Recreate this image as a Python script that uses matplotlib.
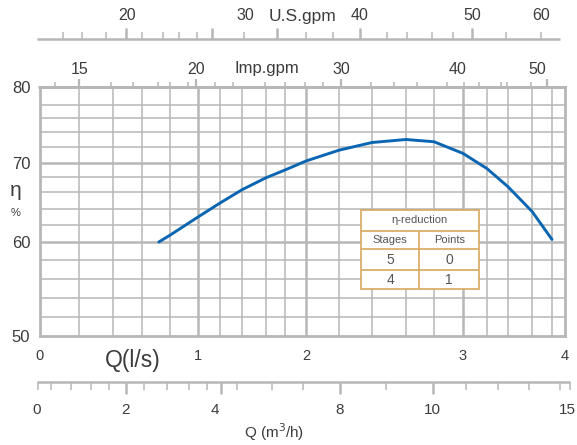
import numpy as np
import matplotlib.pyplot as plt
from matplotlib.patches import Rectangle

plt.rcParams['font.family'] = ['Liberation Sans', 'DejaVu Sans']

W, H = 577, 445

# efficiency curve (Q in l/s, eta in %)
q_ls = [0.72, 0.8, 1.0, 1.2, 1.4, 1.6, 1.8, 2.0, 2.2, 2.4, 2.6, 2.8, 3.0, 3.2, 3.4, 3.6, 3.8]
eta = [60.0, 60.8, 63.0, 64.7, 66.3, 67.9, 69.0, 70.25, 71.6, 72.6, 73.0, 72.7, 71.2, 69.2, 66.7, 63.7, 60.3]

# the grid of the original is not evenly spaced: grid values and where they sit (px)
grid_q = np.round(np.arange(0, 4.01, 0.2), 1)
grid_q_px = np.array([40, 79, 113, 142, 170, 198, 220, 242, 266, 285, 306,
                      339, 372, 406, 434, 463, 487, 508, 532, 552, 565])
grid_eta = np.arange(50, 81, 2)
grid_eta_px = np.array([336, 317, 298, 279, 260, 242, 225, 209, 192, 177, 163,
                        147, 132, 118, 105, 87])

q_ticks = [0, 1, 2, 3, 4]
eta_ticks = [50, 60, 70, 80]

# secondary scale bars (labels and tick positions in px)
usgpm_labels = ["20", "30", "40", "50", "60"]
usgpm_label_px = [127, 245, 360, 472, 541]
usgpm_major_px = [125.7, 211.7, 277.3, 360, 471.7]
usgpm_minor_px = [63.3, 82.3, 106, 141.7, 162.7, 179, 196.7, 244.3, 306, 332.7,
                  386.7, 406.7, 431.7, 453.3, 506, 540.7]

impgpm_labels = ["15", "20", "30", "40", "50"]
impgpm_label_px = [80, 196, 341, 458, 537]
impgpm_major_px = [79.3, 195.7, 341, 546.7]
impgpm_minor_px = [55, 111, 133.3, 158.3, 170, 188.3, 215, 233.3, 265, 285, 305,
                   323.3, 371, 394.3, 416.7, 447.3, 464, 479, 501, 507.3, 530.7]

m3h_labels = ["0", "2", "4", "8", "10", "15"]
m3h_label_px = [37, 125, 215, 340, 432, 567]
m3h_major_px = [126, 221, 340, 432.7]
m3h_minor_px = [38, 50.7, 70.7, 90.7, 109, 144.3, 166.7, 189, 207.3, 236.7, 272.3,
                302.7, 386, 466, 498.3, 529, 560, 570]

table_title = "η-reduction"
table_cols = ["Stages", "Points"]
table_rows = [["5", "0"], ["4", "1"]]

grid_col = '#b7b7b7'
text_col = '#3c3c3c'
curve_col = '#0a66b2'
table_col = '#d8a95e'

fig = plt.figure(figsize=(W / 100, H / 100), dpi=100)


def fx(p):
    return p / W


def fy(p):
    return 1 - p / H


ax = fig.add_axes([fx(40), fy(336), (565 - 40) / W, (336 - 87) / H])
ax.set_xscale('function', functions=(lambda v: np.interp(v, grid_q, grid_q_px),
                                     lambda p: np.interp(p, grid_q_px, grid_q)))
ax.set_yscale('function', functions=(lambda v: np.interp(v, grid_eta, -grid_eta_px),
                                     lambda p: np.interp(p, -grid_eta_px, grid_eta)))
ax.set_xlim(0, 4)
ax.set_ylim(50, 80)

for q in grid_q[1:-1]:
    major = np.isclose(q % 1, 0)
    ax.axvline(q, color=grid_col, lw=1.8 if major else 1.1, zorder=1)
for e in grid_eta[1:-1]:
    major = e % 10 == 0
    ax.axhline(e, color=grid_col, lw=1.8 if major else 1.1, zorder=1)
for s in ax.spines.values():
    s.set_color(grid_col)
    s.set_linewidth(2.0)

ax.plot(q_ls, eta, color=curve_col, lw=2.1, zorder=3,
        solid_joinstyle='round', solid_capstyle='round')

ax.set_xticks(q_ticks)
ax.set_xticklabels([str(t) for t in q_ticks], fontsize=10.5, color=text_col)
ax.set_yticks(eta_ticks)
ax.set_yticklabels([str(t) for t in eta_ticks], fontsize=12, color=text_col)
ax.tick_params(axis='x', length=0, pad=9)
ax.tick_params(axis='y', length=0, pad=7)
ax.minorticks_off()

# overlay in pixel coordinates for the scale bars, labels and the table
deco = fig.add_axes([0, 0, 1, 1], zorder=5)
deco.set_xlim(0, W)
deco.set_ylim(H, 0)
deco.axis('off')
deco.patch.set_alpha(0)

# U.S.gpm bar
deco.plot([37, 560], [39, 39], color=grid_col, lw=1.8, solid_capstyle='butt')
deco.vlines(usgpm_minor_px, 32, 39, color=grid_col, lw=1.1)
deco.vlines(usgpm_major_px, 28, 39, color=grid_col, lw=1.8)
for lab, px in zip(usgpm_labels, usgpm_label_px):
    deco.text(px, 16, lab, ha='center', va='center', fontsize=11.5, color=text_col)
deco.text(303, 16, "U.S.gpm", ha='center', va='center', fontsize=12.5, color=text_col)

# Imp.gpm bar (sits on top of the grid)
deco.plot([38, 565], [87, 87], color=grid_col, lw=2.0, solid_capstyle='butt')
deco.vlines(impgpm_minor_px, 82, 87, color=grid_col, lw=1.1)
deco.vlines(impgpm_major_px, 79, 87, color=grid_col, lw=1.6)
for lab, px in zip(impgpm_labels, impgpm_label_px):
    deco.text(px, 70, lab, ha='center', va='center', fontsize=11.5, color=text_col)
deco.text(267, 69, "Imp.gpm", ha='center', va='center', fontsize=12, color=text_col)

# m3/h bar
deco.plot([37, 570], [382, 382], color=grid_col, lw=1.8, solid_capstyle='butt')
deco.vlines(m3h_minor_px, 382, 390, color=grid_col, lw=1.1)
deco.vlines(m3h_major_px, 382, 394, color=grid_col, lw=1.8)
for lab, px in zip(m3h_labels, m3h_label_px):
    deco.text(px, 410, lab, ha='center', va='center', fontsize=11, color=text_col)
deco.text(274, 432, "Q (m$^3$/h)", ha='center', va='center', fontsize=11, color=text_col)

deco.text(133, 361, "Q(l/s)", ha='center', va='center', fontsize=16.5, color=text_col)
deco.text(16, 191, "η", ha='center', va='center', fontsize=15, color=text_col)
deco.text(16, 213, "%", ha='center', va='center', fontsize=8, color=text_col)

# eta-reduction table
tx0, tx1, tmid = 361, 479, 419.3
ty = [210, 230.7, 249.3, 270, 289.3]
deco.add_patch(Rectangle((tx0, ty[0]), tx1 - tx0, ty[-1] - ty[0],
                         facecolor='white', edgecolor=table_col, lw=1.2))
deco.hlines(ty[1:-1], tx0, tx1, color=table_col, lw=1.2)
deco.vlines(tmid, ty[1], ty[-1], color=table_col, lw=1.2)
cx = [(tx0 + tmid) / 2, (tmid + tx1) / 2]
deco.text((tx0 + tx1) / 2, (ty[0] + ty[1]) / 2, table_title, ha='center', va='center',
          fontsize=8, color='#555555')
for c, lab in zip(cx, table_cols):
    deco.text(c, (ty[1] + ty[2]) / 2, lab, ha='center', va='center', fontsize=8, color='#555555')
for i, row in enumerate(table_rows):
    for c, val in zip(cx, row):
        deco.text(c, (ty[i + 2] + ty[i + 3]) / 2, val, ha='center', va='center',
                  fontsize=10, color='#555555')

fig.savefig('out.png', dpi=100)
